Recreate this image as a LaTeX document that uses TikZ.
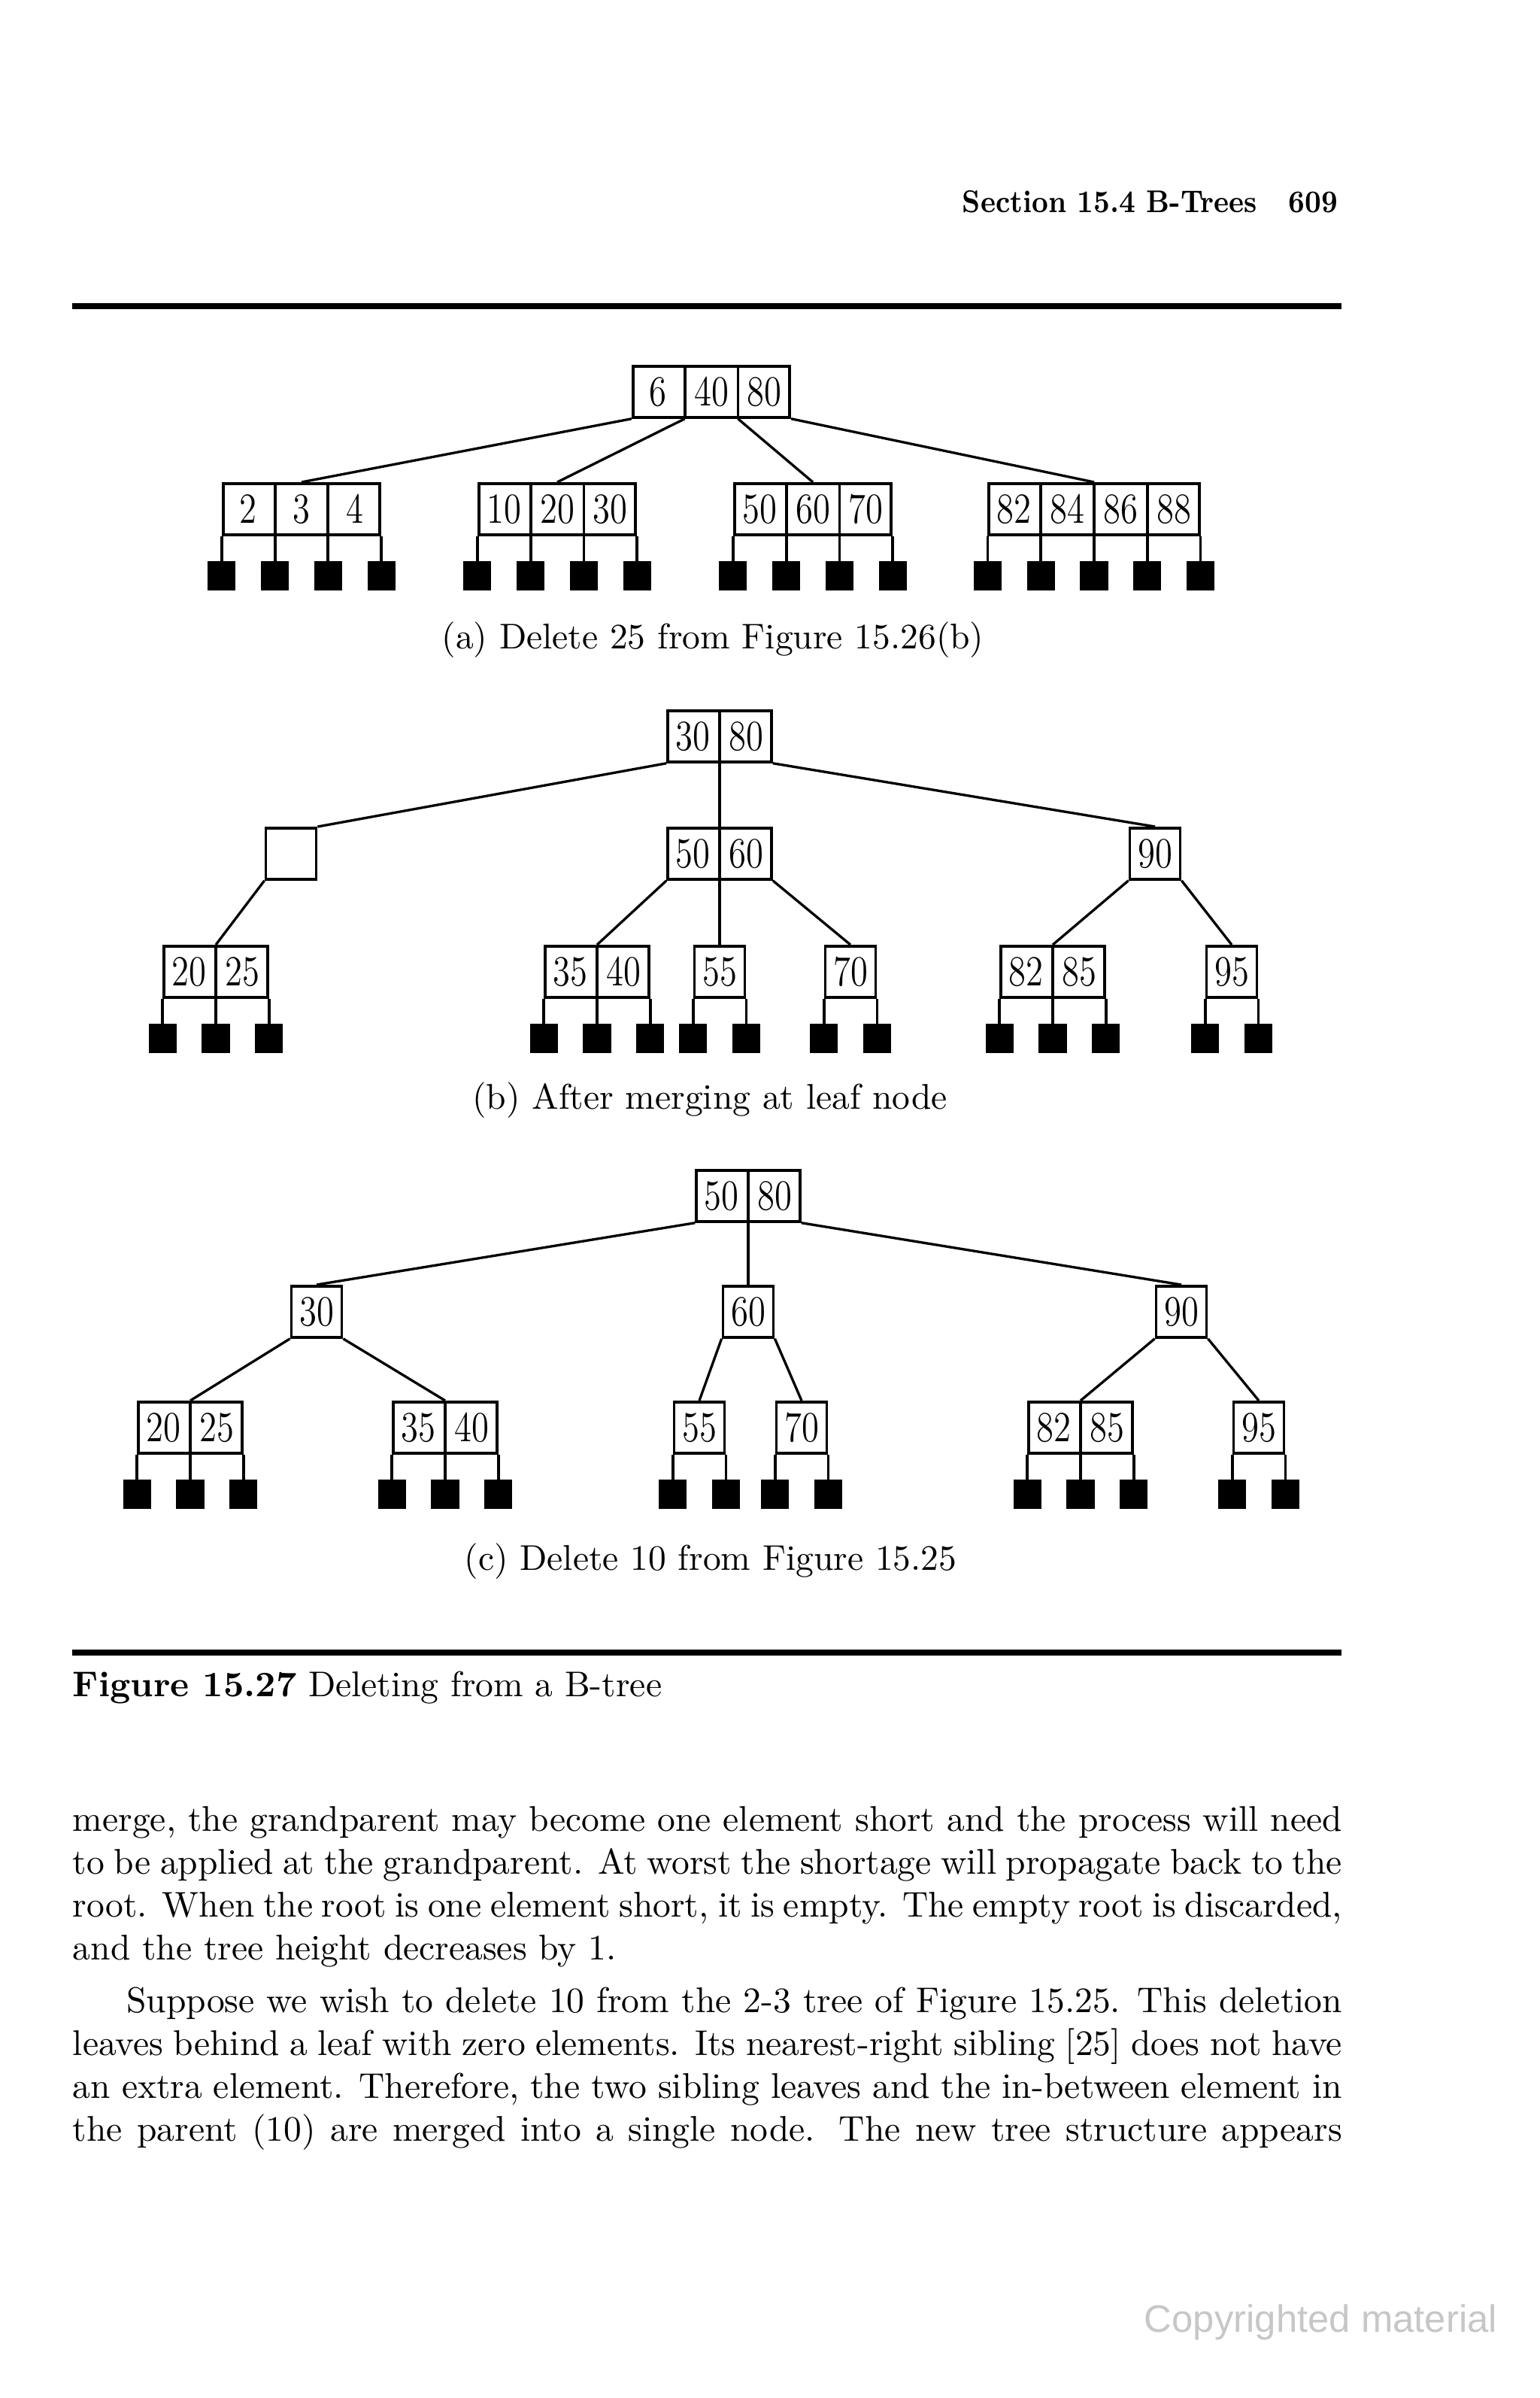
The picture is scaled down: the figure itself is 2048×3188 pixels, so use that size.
\documentclass[tikz,border=0pt]{standalone}
\usepackage{fontspec}
\usepackage{graphicx}
\usetikzlibrary{positioning,shapes.multipart}
\newfontfamily\wmfont{Liberation Sans}
% one key cell of a B-tree node
\newcommand{\kc}[1]{\makebox[14.1pt]{\rule[-3.3pt]{0pt}{14.3pt}\scalebox{0.82}[1]{#1}}}
% pointer positions at the bottom of a node with 0/1, 2, 3, 4 keys
\newcommand{\ptrsi}{south west,south east}
\newcommand{\ptrsii}{south west,one split south,south east}
\newcommand{\ptrsiii}{south west,one split south,two split south,south east}
\newcommand{\ptrsiv}{south west,one split south,two split south,three split south,south east}
% black external nodes under a leaf
\newcommand{\hangleaves}[2]{%
  \foreach \p [count=\i] in #2 {
    \node[leaf, below=6.9pt of #1.\p] (#1-\i) {};
    \draw[ptr] (#1.\p) -- (#1-\i);
  }}
\tikzset{
  bnode/.style={draw, line width=0.8pt, rectangle split, rectangle split horizontal, inner sep=0pt, anchor=north, font=\fontsize{12}{12}\selectfont},
  leaf/.style={fill=black, inner sep=0pt, minimum width=7.8pt, minimum height=8.2pt},
  ptr/.style={line width=0.8pt},
  link/.style={line width=0.7pt},
  subcap/.style={anchor=base, inner sep=0pt},
}
\begin{document}
\begin{tikzpicture}[x=0.2105pt, y=-0.2105pt]
\fill[white] (0,0) rectangle (2048,3188);
\useasboundingbox (0,0) rectangle (2048,3188);
\node[anchor=base east, inner sep=0pt, font=\bfseries\fontsize{8.8}{10}\selectfont] (head) at (1780,283) {\scalebox{0.88}[1]{Section 15.4 B-Trees\hspace{10pt}609}};
\draw[line width=1.6pt] (96,407) -- (1784,407);

% (a)
\node[bnode, rectangle split parts=3] (ar) at (946,485) {\kc{6}\nodepart{two}\kc{40}\nodepart{three}\kc{80}};
\node[bnode, rectangle split parts=3] (a2) at (401,641) {\kc{2}\nodepart{two}\kc{3}\nodepart{three}\kc{4}};
\node[bnode, rectangle split parts=3] (a10) at (741,641) {\kc{10}\nodepart{two}\kc{20}\nodepart{three}\kc{30}};
\node[bnode, rectangle split parts=3] (a50) at (1081,641) {\kc{50}\nodepart{two}\kc{60}\nodepart{three}\kc{70}};
\node[bnode, rectangle split parts=4] (a82) at (1455,641) {\kc{82}\nodepart{two}\kc{84}\nodepart{three}\kc{86}\nodepart{four}\kc{88}};
\draw[link] (ar.south west) -- (a2.north);
\draw[link] (ar.one split south) -- (a10.north);
\draw[link] (ar.two split south) -- (a50.north);
\draw[link] (ar.south east) -- (a82.north);
\hangleaves{a2}{\ptrsiii}
\hangleaves{a10}{\ptrsiii}
\hangleaves{a50}{\ptrsiii}
\hangleaves{a82}{\ptrsiv}
\node[subcap] (capa) at (948,862) {(a) Delete 25 from Figure 15.26(b)};

% (b)
\node[bnode, rectangle split parts=2] (br) at (957,943) {\kc{30}\nodepart{two}\kc{80}};
\node[bnode, rectangle split parts=1] (be) at (387,1099) {\kc{}};
\node[bnode, rectangle split parts=2] (b50) at (957,1099) {\kc{50}\nodepart{two}\kc{60}};
\node[bnode, rectangle split parts=1] (b90) at (1536,1099) {\kc{90}};
\node[bnode, rectangle split parts=2] (b20) at (287,1256) {\kc{20}\nodepart{two}\kc{25}};
\node[bnode, rectangle split parts=2] (b35) at (794,1256) {\kc{35}\nodepart{two}\kc{40}};
\node[bnode, rectangle split parts=1] (b55) at (957,1256) {\kc{55}};
\node[bnode, rectangle split parts=1] (b70) at (1131,1256) {\kc{70}};
\node[bnode, rectangle split parts=2] (b82) at (1400,1256) {\kc{82}\nodepart{two}\kc{85}};
\node[bnode, rectangle split parts=1] (b95) at (1638,1256) {\kc{95}};
\draw[link] (br.south west) -- (be.north east);
\draw[link] (br.one split south) -- (b50.north);
\draw[link] (br.south east) -- (b90.north);
\draw[link] (be.south west) -- (b20.north);
\draw[link] (b50.south west) -- (b35.north);
\draw[link] (b50.one split south) -- (b55.north);
\draw[link] (b50.south east) -- (b70.north);
\draw[link] (b90.south west) -- (b82.north);
\draw[link] (b90.south east) -- (b95.north);
\hangleaves{b20}{\ptrsii}
\hangleaves{b35}{\ptrsii}
\hangleaves{b55}{\ptrsi}
\hangleaves{b70}{\ptrsi}
\hangleaves{b82}{\ptrsii}
\hangleaves{b95}{\ptrsi}
\node[subcap] (capb) at (944,1474) {(b) After merging at leaf node};

% (c)
\node[bnode, rectangle split parts=2] (cr) at (995,1554) {\kc{50}\nodepart{two}\kc{80}};
\node[bnode, rectangle split parts=1] (c30) at (421,1708) {\kc{30}};
\node[bnode, rectangle split parts=1] (c60) at (995,1708) {\kc{60}};
\node[bnode, rectangle split parts=1] (c90) at (1571,1708) {\kc{90}};
\node[bnode, rectangle split parts=2] (c20) at (253,1862) {\kc{20}\nodepart{two}\kc{25}};
\node[bnode, rectangle split parts=2] (c35) at (592,1862) {\kc{35}\nodepart{two}\kc{40}};
\node[bnode, rectangle split parts=1] (c55) at (930,1862) {\kc{55}};
\node[bnode, rectangle split parts=1] (c70) at (1066,1862) {\kc{70}};
\node[bnode, rectangle split parts=2] (c82) at (1437,1862) {\kc{82}\nodepart{two}\kc{85}};
\node[bnode, rectangle split parts=1] (c95) at (1674,1862) {\kc{95}};
\draw[link] (cr.south west) -- (c30.north);
\draw[link] (cr.one split south) -- (c60.north);
\draw[link] (cr.south east) -- (c90.north);
\draw[link] (c30.south west) -- (c20.north);
\draw[link] (c30.south east) -- (c35.north);
\draw[link] (c60.south west) -- (c55.north);
\draw[link] (c60.south east) -- (c70.north);
\draw[link] (c90.south west) -- (c82.north);
\draw[link] (c90.south east) -- (c95.north);
\hangleaves{c20}{\ptrsii}
\hangleaves{c35}{\ptrsii}
\hangleaves{c55}{\ptrsi}
\hangleaves{c70}{\ptrsi}
\hangleaves{c82}{\ptrsii}
\hangleaves{c95}{\ptrsi}
\node[subcap] (capc) at (945,2087) {(c) Delete 10 from Figure 15.25};

\draw[line width=1.6pt] (96,2197) -- (1784,2197);
\node[anchor=base west, inner sep=0pt] (figcap) at (96,2255) {\textbf{Figure 15.27} Deleting from a B-tree};

% running text
\node[anchor=north west, inner sep=0pt, text width=355.3pt, align=justify] (par1) at (96,2401) {merge, the grandparent may become one element short and the process will need\linebreak to be applied at the grandparent. At worst the shortage will propagate back to the\linebreak root. When the root is one element short, it is empty. The empty root is discarded,\linebreak and the tree height decreases by 1.};
\node[anchor=north west, inner sep=0pt, text width=355.3pt, align=justify] (par2) at (96,2641) {\hspace*{15pt}Suppose we wish to delete 10 from the 2-3 tree of Figure 15.25. This deletion\linebreak leaves behind a leaf with zero elements. Its nearest-right sibling [25] does not have\linebreak an extra element. Therefore, the two sibling leaves and the in-between element in\linebreak the parent (10) are merged into a single node. The new tree structure appears\parfillskip=0pt\par};

\node[anchor=base west, inner sep=0pt, text=black!22, font=\wmfont\fontsize{10.7}{12}\selectfont] (wm) at (1521,3100) {Copyrighted material};
\end{tikzpicture}
\end{document}
